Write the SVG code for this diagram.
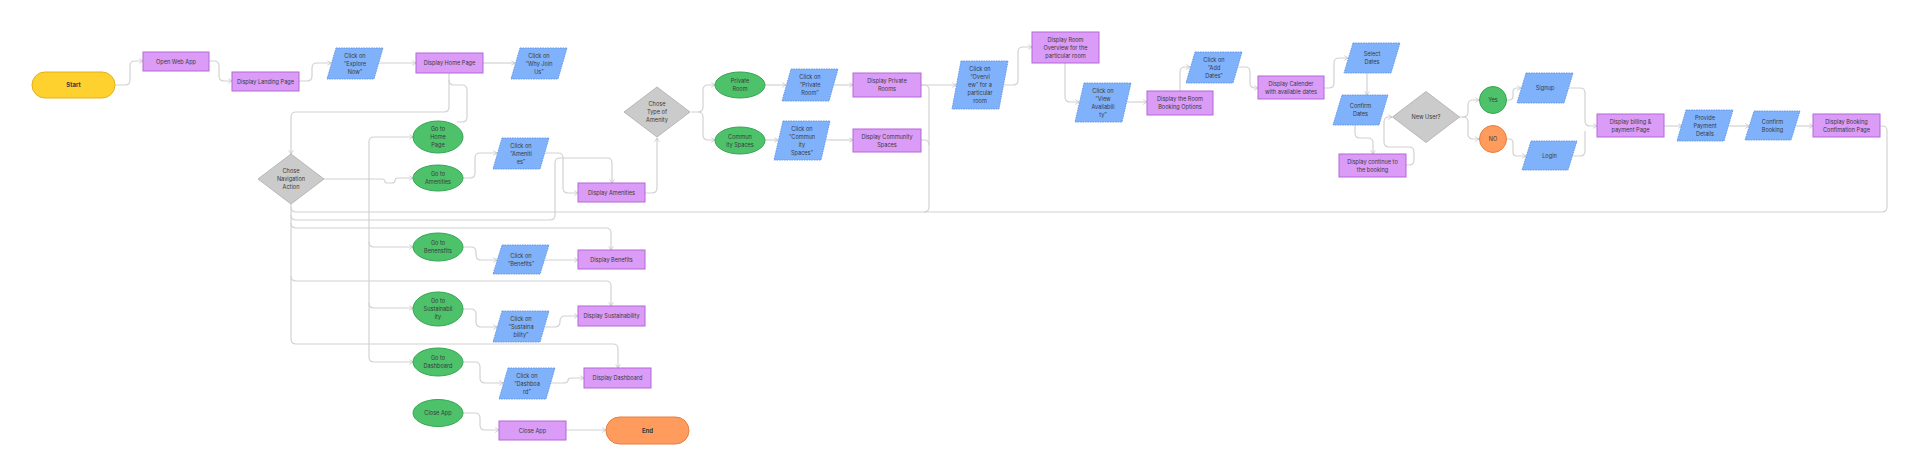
<svg xmlns="http://www.w3.org/2000/svg" width="1920" height="476" viewBox="0 0 1920 476">
<defs>
<marker id="arr" viewBox="0 0 6 8" refX="5.5" refY="4" markerWidth="5" markerHeight="6" orient="auto" markerUnits="userSpaceOnUse">
<path d="M0.5,0.8 L5.5,4 L0.5,7.2" fill="none" stroke="#BDBDBD" stroke-width="0.9"/>
</marker>
</defs>
<style>
.bg{fill:#FFFFFF}
.c{fill:none;stroke:#D2D2D2;stroke-width:1.2;stroke-linejoin:round}
.a{marker-end:url(#arr)}
.pr{fill:#DA9CF6;stroke:#B667D8;stroke-width:1}
.io{fill:#80B2FB;stroke:#5E93E4;stroke-width:0.9;stroke-dasharray:1.6 0.9}
.ov{fill:#4DC26B;stroke:#35A553;stroke-width:1}
.dm{fill:#CBCBCB;stroke:#B8B8B8;stroke-width:1}
.st{fill:#FFD12F;stroke:#E0B21C;stroke-width:1}
.en{fill:#FF9C5D;stroke:#E67E3C;stroke-width:1}
text{font-family:Inter,"Liberation Sans",sans-serif;font-size:5.6px;fill:#3A3A3A;text-anchor:middle}
.b{font-weight:bold;font-size:6px}
</style>
<rect class="bg" x="0" y="0" width="1920" height="476"/>
<g id="connectors">
<path class="c a" d="M115,85 H125 Q130,85 130,80 V66 Q130,61 135,61 H143"/>
<path class="c a" d="M209,61 H214 Q219,61 219,66 V76 Q219,81 224,81 H232"/>
<path class="c a" d="M299,81 H307 Q312,81 312,76 V68 Q312,63 317,63 H331"/>
<path class="c a" d="M379,63 H416"/>
<path class="c a" d="M483,63 H515"/>
<path class="c a" d="M449,73 V107 Q449,112 444,112 H296 Q291,112 291,117 V154"/>
<path class="c" d="M449,80 Q449,85 454,85 H462 Q467,85 467,90 V117 Q467,122 462,122 H457"/>
<path class="c" d="M324,179 H369"/>
<path class="c a" d="M369,180 V142 Q369,137 374,137 H413"/>
<path class="c a" d="M369,179 V357 Q369,362 374,362 H413"/>
<path class="c a" d="M369,242 Q369,247 374,247 H413"/>
<path class="c a" d="M369,303 Q369,308 374,308 H413"/>
<path class="c a" d="M369,179 H381 Q385,179 385,181.5 Q385,183 388,183 H392 Q395,183 395,180.5 Q395,178 398,178 H413"/>
<path class="c a" d="M463,178 H470 Q475,178 475,173 V158 Q475,153 480,153 H497"/>
<path class="c a" d="M545,153 H558 Q563,153 563,158 V188 Q563,193 568,193 H578"/>
<path class="c a" d="M291,204 V339 Q291,344 296,344 H613 Q618,344 618,349 V368"/>
<path class="c" d="M291,207 Q291,212 296,212 H1882 Q1887,212 1887,207 V131 Q1887,126 1882,126 H1880"/>
<path class="c a" d="M291,215 Q291,220 296,220 H550 Q555,220 555,215 V163 Q555,158 560,158 H607 Q612,158 612,163 V183"/>
<path class="c a" d="M291,223 Q291,228 296,228 H606 Q611,228 611,233 V250"/>
<path class="c a" d="M291,276 Q291,281 296,281 H606 Q611,281 611,286 V306"/>
<path class="c" d="M921,85 H924 Q929,85 929,90 V207 Q929,212 924,212"/>
<path class="c" d="M921,140 H924 Q929,140 929,145"/>
<path class="c a" d="M645,193 H652 Q657,193 657,188 V138"/>
<path class="c a" d="M691,112 H698 Q703,112 703,107 V90 Q703,85 708,85 H715"/>
<path class="c a" d="M698,112 Q703,112 703,117 V135 Q703,140 708,140 H715"/>
<path class="c a" d="M764,85 H786"/>
<path class="c a" d="M764,140 H778"/>
<path class="c a" d="M834,85 H853"/>
<path class="c a" d="M826,140 H853"/>
<path class="c a" d="M921,85 H956"/>
<path class="c a" d="M1004,85 H1013 Q1018,85 1018,80 V52 Q1018,47 1023,47 H1032"/>
<path class="c a" d="M1065,63 V97 Q1065,102 1070,102 H1079"/>
<path class="c a" d="M1127,102 H1147"/>
<path class="c a" d="M1180,91 V72 Q1180,67 1185,67 H1190"/>
<path class="c a" d="M1238,67 H1245 Q1250,67 1250,72 V83 Q1250,88 1255,88 H1258"/>
<path class="c a" d="M1324,88 H1329 Q1334,88 1334,83 V63 Q1334,58 1339,58 H1348"/>
<path class="c a" d="M1367,73 V95"/>
<path class="c a" d="M1355,125 V133 Q1355,138 1360,138 H1368 Q1373,138 1373,143 V154"/>
<path class="c a" d="M1406,165 H1409 Q1414,165 1414,160 V152 Q1414,147 1409,147 H1389 Q1384,147 1384,142 V122 Q1384,117 1389,117 H1392"/>
<path class="c a" d="M1459,117 H1463 Q1468,117 1468,112 V105 Q1468,100 1473,100 H1479"/>
<path class="c a" d="M1463,117 Q1468,117 1468,122 V134 Q1468,139 1473,139 H1479"/>
<path class="c a" d="M1507,100 H1509 Q1513,100 1513,96 V92 Q1513,88 1517,88 H1521"/>
<path class="c a" d="M1507,139 H1509 Q1513,139 1513,143 V152 Q1513,156 1517,156 H1526"/>
<path class="c a" d="M1569,88 H1580 Q1585,88 1585,93 V121 Q1585,126 1590,126 H1597"/>
<path class="c" d="M1573,156 H1580 Q1585,156 1585,151 V131"/>
<path class="c a" d="M1664,126 H1682"/>
<path class="c a" d="M1729,126 H1749"/>
<path class="c a" d="M1796,126 H1813"/>
<path class="c a" d="M463,247 H471 Q476,247 476,252 V255 Q476,260 481,260 H497"/>
<path class="c a" d="M545,260 H578"/>
<path class="c a" d="M463,309 H471 Q476,309 476,314 V322 Q476,327 481,327 H497"/>
<path class="c a" d="M545,327 H555 Q560,327 560,322 V321 Q560,316 565,316 H578"/>
<path class="c a" d="M463,362 H475 Q480,362 480,367 V378 Q480,383 485,383 H503"/>
<path class="c a" d="M551,383 H563 Q568,383 568,380.5 Q568,378 571,378 H584"/>
<path class="c a" d="M463,413 H475 Q480,413 480,418 V425 Q480,430 485,430 H499"/>
<path class="c a" d="M566,430 H606"/>
</g>
<g id="start"><rect class="st" x="32" y="72" width="83" height="26" rx="13"/><text class="b" x="73.5" y="87">Start</text></g>
<g id="open-web-app"><rect class="pr" x="143" y="52" width="66" height="19"/><text x="176" y="63.5">Open Web App</text></g>
<g id="display-landing"><rect class="pr" x="232" y="72" width="67" height="19"/><text x="265.5" y="83.5">Display Landing Page</text></g>
<g id="click-explore"><polygon class="io" points="336,48 383,48 374,79 327,79"/><text x="355" y="57.5">Click on<tspan x="355" dy="8">“Explore</tspan><tspan x="355" dy="8">Now”</tspan></text></g>
<g id="display-home"><rect class="pr" x="416" y="53" width="67" height="20"/><text x="449.5" y="65">Display Home Page</text></g>
<g id="click-why-join"><polygon class="io" points="520,48 567,48 558,79 511,79"/><text x="539" y="57.5">Click on<tspan x="539" dy="8">“Why Join</tspan><tspan x="539" dy="8">Us”</tspan></text></g>
<g id="nav-action"><polygon class="dm" points="291,154 324,179 291,204 258,179"/><text x="291" y="173">Chose<tspan x="291" dy="8">Navigation</tspan><tspan x="291" dy="8">Action</tspan></text></g>
<g id="go-home"><ellipse class="ov" cx="438" cy="137" rx="25" ry="16"/><text x="438" y="131">Go to<tspan x="438" dy="8">Home</tspan><tspan x="438" dy="8">Page</tspan></text></g>
<g id="go-amenities"><ellipse class="ov" cx="438" cy="178" rx="25" ry="13"/><text x="438" y="176">Go to<tspan x="438" dy="8">Amenities</tspan></text></g>
<g id="click-amenities"><polygon class="io" points="502,138 549,138 540,169 493,169"/><text x="521" y="147.5">Click on<tspan x="521" dy="8">“Ameniti</tspan><tspan x="521" dy="8">es”</tspan></text></g>
<g id="display-amenities"><rect class="pr" x="578" y="183" width="67" height="19"/><text x="611.5" y="194.5">Display Amenities</text></g>
<g id="type-amenity"><polygon class="dm" points="657,87 690,112 657,137 624,112"/><text x="657" y="106">Chose<tspan x="657" dy="8">Type of</tspan><tspan x="657" dy="8">Amenity</tspan></text></g>
<g id="private-room"><ellipse class="ov" cx="740" cy="85" rx="25" ry="13"/><text x="740" y="83">Private<tspan x="740" dy="8">Room</tspan></text></g>
<g id="community-spaces"><ellipse class="ov" cx="740" cy="140.5" rx="25" ry="13.5"/><text x="740" y="138.5">Commun<tspan x="740" dy="8">ity Spaces</tspan></text></g>
<g id="click-private"><polygon class="io" points="791,69 838,69 829,101 782,101"/><text x="810" y="79">Click on<tspan x="810" dy="8">“Private</tspan><tspan x="810" dy="8">Room”</tspan></text></g>
<g id="click-community"><polygon class="io" points="783,121 830,121 821,160 774,160"/><text x="802" y="130.5">Click on<tspan x="802" dy="8">“Commun</tspan><tspan x="802" dy="8">ity</tspan><tspan x="802" dy="8">Spaces”</tspan></text></g>
<g id="display-private"><rect class="pr" x="853" y="73" width="68" height="24"/><text x="887" y="83">Display Private<tspan x="887" dy="8">Rooms</tspan></text></g>
<g id="display-community"><rect class="pr" x="853" y="129" width="68" height="23"/><text x="887" y="138.5">Display Community<tspan x="887" dy="8">Spaces</tspan></text></g>
<g id="click-overview"><polygon class="io" points="961,61 1008,61 999,109 952,109"/><text x="980" y="71">Click on<tspan x="980" dy="8">“Overvi</tspan><tspan x="980" dy="8">ew” for a</tspan><tspan x="980" dy="8">particular</tspan><tspan x="980" dy="8">room</tspan></text></g>
<g id="room-overview"><rect class="pr" x="1032" y="32" width="67" height="31"/><text x="1065.5" y="41.5">Display Room<tspan x="1065.5" dy="8">Overview for the</tspan><tspan x="1065.5" dy="8">particular room</tspan></text></g>
<g id="click-view-availability"><polygon class="io" points="1084,83 1131,83 1122,122 1075,122"/><text x="1103" y="92.5">Click on<tspan x="1103" dy="8">“View</tspan><tspan x="1103" dy="8">Availabili</tspan><tspan x="1103" dy="8">ty”</tspan></text></g>
<g id="booking-options"><rect class="pr" x="1147" y="91" width="66" height="24"/><text x="1180" y="101">Display the Room<tspan x="1180" dy="8">Booking Options</tspan></text></g>
<g id="click-add-dates"><polygon class="io" points="1195,52 1242,52 1233,83 1186,83"/><text x="1214" y="61.5">Click on<tspan x="1214" dy="8">“Add</tspan><tspan x="1214" dy="8">Dates”</tspan></text></g>
<g id="display-calender"><rect class="pr" x="1258" y="76" width="66" height="23"/><text x="1291" y="85.5">Display Calender<tspan x="1291" dy="8">with available dates</tspan></text></g>
<g id="select-dates"><polygon class="io" points="1353,43 1400,43 1391,73 1344,73"/><text x="1372" y="56">Select<tspan x="1372" dy="8">Dates</tspan></text></g>
<g id="confirm-dates"><polygon class="io" points="1342,95 1388,95 1379,125 1333,125"/><text x="1360.5" y="108">Confirm<tspan x="1360.5" dy="8">Dates</tspan></text></g>
<g id="new-user"><polygon class="dm" points="1426,91.5 1459.5,117 1426,142.5 1392.5,117"/><text x="1426" y="119">New User?</text></g>
<g id="display-continue"><rect class="pr" x="1339" y="154" width="67" height="23"/><text x="1372.5" y="163.5">Display continue to<tspan x="1372.5" dy="8">the booking</tspan></text></g>
<g id="yes"><circle class="ov" cx="1493" cy="100" r="13.5"/><text x="1493" y="102">Yes</text></g>
<g id="no"><circle class="en" cx="1493" cy="139" r="13.5"/><text x="1493" y="141">NO</text></g>
<g id="signup"><polygon class="io" points="1526,73 1573,73 1564,103 1517,103"/><text x="1545" y="90">Signup</text></g>
<g id="login"><polygon class="io" points="1531,141 1577,141 1568,170 1522,170"/><text x="1549.5" y="157.5">Login</text></g>
<g id="billing"><rect class="pr" x="1597" y="114" width="67" height="23"/><text x="1630.5" y="123.5">Display billing &amp;<tspan x="1630.5" dy="8">payment Page</tspan></text></g>
<g id="provide-payment"><polygon class="io" points="1686,110 1733,110 1724,141 1677,141"/><text x="1705" y="119.5">Provide<tspan x="1705" dy="8">Payment</tspan><tspan x="1705" dy="8">Details</tspan></text></g>
<g id="confirm-booking"><polygon class="io" points="1754,111 1800,111 1791,140 1745,140"/><text x="1772.5" y="123.5">Confirm<tspan x="1772.5" dy="8">Booking</tspan></text></g>
<g id="booking-confirmation"><rect class="pr" x="1813" y="114" width="67" height="23"/><text x="1846.5" y="123.5">Display Booking<tspan x="1846.5" dy="8">Confimation Page</tspan></text></g>
<g id="go-benefits"><ellipse class="ov" cx="438" cy="247" rx="25" ry="14"/><text x="438" y="245">Go to<tspan x="438" dy="8">Benensfits</tspan></text></g>
<g id="click-benefits"><polygon class="io" points="502,245 549,245 540,274 493,274"/><text x="521" y="257.5">Click on<tspan x="521" dy="8">“Benefits”</tspan></text></g>
<g id="display-benefits"><rect class="pr" x="578" y="250" width="67" height="19"/><text x="611.5" y="261.5">Display Benefits</text></g>
<g id="go-sustainability"><ellipse class="ov" cx="438" cy="309" rx="25" ry="17"/><text x="438" y="303">Go to<tspan x="438" dy="8">Sustainabil</tspan><tspan x="438" dy="8">ity</tspan></text></g>
<g id="click-sustainability"><polygon class="io" points="502,311 549,311 540,342 493,342"/><text x="521" y="320.5">Click on<tspan x="521" dy="8">“Sustaina</tspan><tspan x="521" dy="8">bility”</tspan></text></g>
<g id="display-sustainability"><rect class="pr" x="578" y="306" width="67" height="20"/><text x="611.5" y="318">Display Sustainability</text></g>
<g id="go-dashboard"><ellipse class="ov" cx="438" cy="362" rx="25" ry="14"/><text x="438" y="360">Go to<tspan x="438" dy="8">Dashboard</tspan></text></g>
<g id="click-dashboard"><polygon class="io" points="508,368 555,368 546,399 499,399"/><text x="527" y="377.5">Click on<tspan x="527" dy="8">“Dashboa</tspan><tspan x="527" dy="8">rd”</tspan></text></g>
<g id="display-dashboard"><rect class="pr" x="584" y="368" width="67" height="20"/><text x="617.5" y="380">Display Dashboard</text></g>
<g id="close-app-event"><ellipse class="ov" cx="438" cy="413" rx="25" ry="13.5"/><text x="438" y="415">Close App</text></g>
<g id="close-app"><rect class="pr" x="499" y="421" width="67" height="19"/><text x="532.5" y="432.5">Close App</text></g>
<g id="end"><rect class="en" x="606" y="417" width="83" height="27" rx="13.5"/><text class="b" x="647.5" y="432.5">End</text></g>
</svg>
